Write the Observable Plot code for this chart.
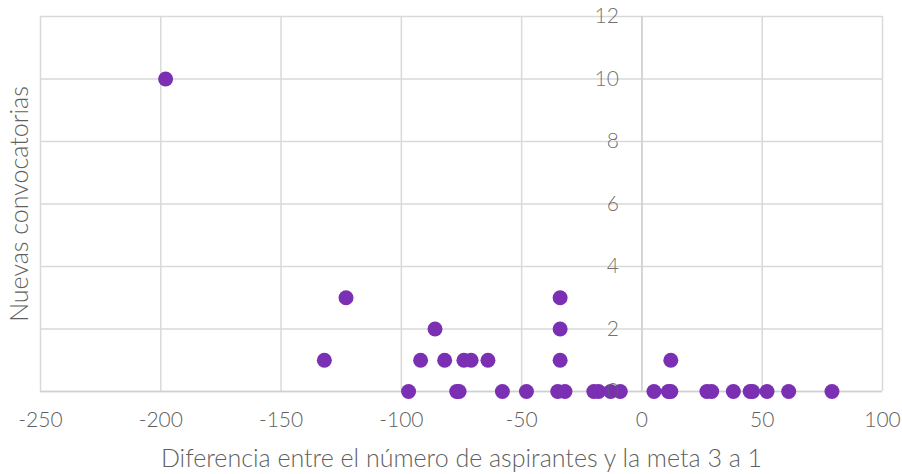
<!DOCTYPE html>
<html><head><meta charset="utf-8">
<script src="https://cdn.jsdelivr.net/npm/d3@7"></script>
<script src="https://cdn.jsdelivr.net/npm/@observablehq/plot@0.6"></script>
<style>
html,body{margin:0;padding:0;background:#fff;}
svg{display:block;}
</style></head><body>
<div id="chart"></div>
<script>
const diferencia = [-198, -123, -34, -86, -34,
  -132, -92, -82, -74, -71, -64, -34, 12,
  -97, -77, -76, -58, -48, -35, -32, -20, -18, -13, -9, 5, 11, 12, 27, 29, 38, 45, 46, 52, 61, 79];
const convocatorias = [10, 3, 3, 2, 2,
  1, 1, 1, 1, 1, 1, 1, 1,
  0, 0, 0, 0, 0, 0, 0, 0, 0, 0, 0, 0, 0, 0, 0, 0, 0, 0, 0, 0, 0, 0];
const xTicks = [-250, -200, -150, -100, -50, 0, 50, 100];
const yTicks = [0, 2, 4, 6, 8, 10, 12];
const xTitle = "Diferencia entre el número de aspirantes y la meta 3 a 1";
const yTitle = "Nuevas convocatorias";

const data = diferencia.map((d, i) => ({x: d, y: convocatorias[i]}));
const font = "Lato, 'Open Sans', sans-serif";
const grey = "#5f5f5f";

const chart = Plot.plot({
  width: 902,
  height: 474,
  marginLeft: 40,
  marginRight: 20,
  marginTop: 16,
  marginBottom: 83,
  style: {fontFamily: font, color: grey, background: "#fff", fontWeight: 300},
  x: {domain: [-250, 100], ticks: xTicks},
  y: {domain: [0, 12], ticks: yTicks, axis: null},
  marks: [
    Plot.gridX(xTicks, {stroke: "#d9d9d9", strokeOpacity: 1, strokeWidth: 1.5}),
    Plot.gridY(yTicks, {stroke: "#d9d9d9", strokeOpacity: 1, strokeWidth: 1.5}),
    Plot.ruleX([0], {stroke: "#d0d0d0", strokeWidth: 1.5}),
    Plot.ruleY([0], {stroke: "#d0d0d0", strokeWidth: 1.5}),
    Plot.axisX(xTicks, {tickSize: 0, tickPadding: 21, fontSize: 21, fill: grey, label: null, tickFormat: d => String(d)}),
    Plot.dot(data, {x: "x", y: "y", r: 7.5, fill: "#7b2fb2", stroke: "none"}),
    Plot.text(yTicks, {x: 0, y: d => d, text: d => String(d), dx: -23, textAnchor: "end", fontSize: 21, fill: grey, fillOpacity: 0.9}),
    Plot.text([xTitle], {frameAnchor: "bottom", dy: 75, fontSize: 25, fill: grey}),
    Plot.text([yTitle], {frameAnchor: "left", dx: -21, rotate: -90, textAnchor: "middle", fontSize: 25, fill: grey})
  ]
});
document.getElementById("chart").append(chart);
</script>
</body></html>
